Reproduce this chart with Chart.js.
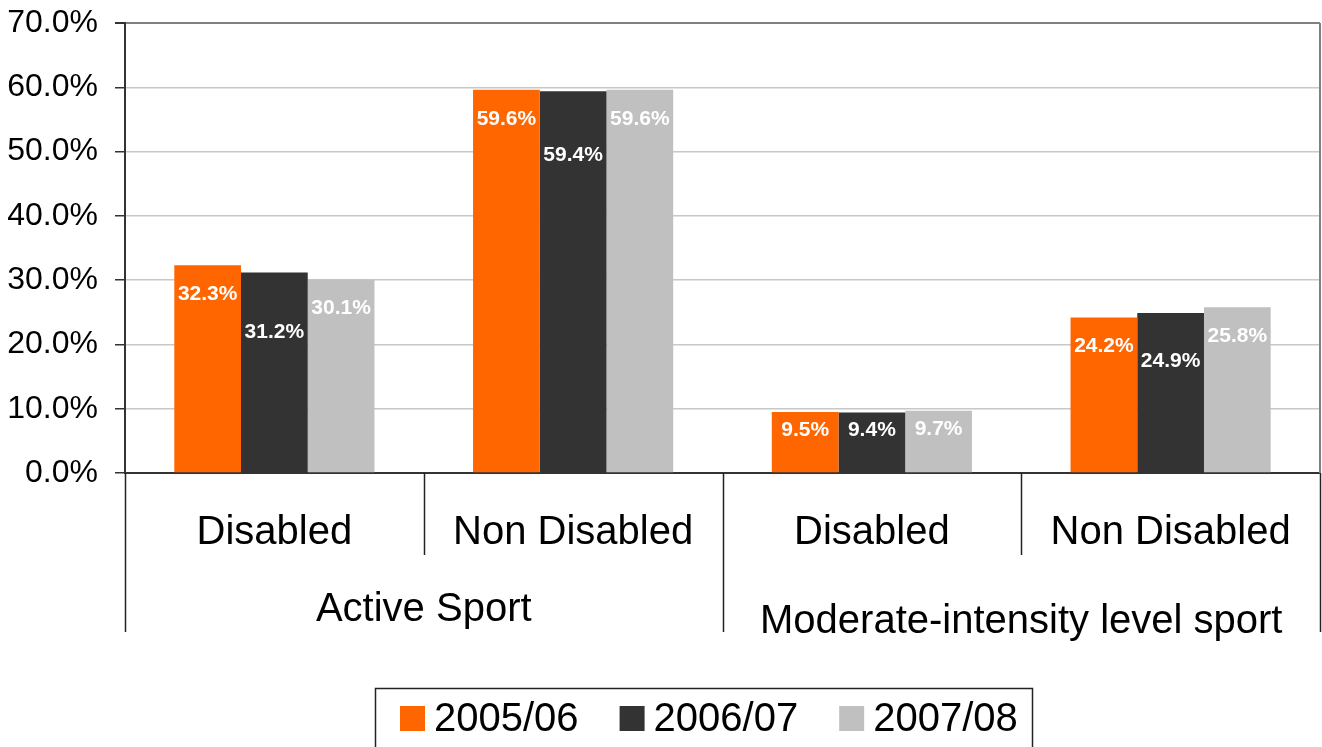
<!DOCTYPE html>
<html>
<head>
<meta charset="utf-8">
<title>Sport participation</title>
<script src="https://cdn.jsdelivr.net/npm/chart.js@4.4.1/dist/chart.umd.min.js"></script>
<style>
  html, body { margin: 0; padding: 0; background: #fff; overflow: hidden; }
  #chart { display: block; }
</style>
</head>
<body>
<canvas id="chart" width="1322" height="747"></canvas>
<script>
// data
var categories = ["Disabled", "Non Disabled", "Disabled", "Non Disabled"];
var groups = ["Active Sport", "Moderate-intensity level sport"];
var seriesNames = ["2005/06", "2006/07", "2007/08"];
var s2005 = [32.3, 59.6, 9.5, 24.2];
var s2006 = [31.2, 59.4, 9.4, 24.9];
var s2007 = [30.1, 59.6, 9.7, 25.8];
var yMax = 70;
var yStep = 10;

var colors = ["#FF6600", "#333333", "#C0C0C0"];
var FONT = '"Liberation Sans", Arial, sans-serif';

// labels, multi-level axis, legend
var decorations = {
  id: "decorations",
  afterDraw: function (chart) {
    var c = chart.ctx;
    var area = chart.chartArea;
    var x = chart.scales.x;

    // right border of plot
    c.save();
    c.strokeStyle = "#808080";
    c.lineWidth = 2;
    c.beginPath();
    c.moveTo(area.right, area.top);
    c.lineTo(area.right, area.bottom);
    c.stroke();

    // value labels
    c.fillStyle = "#ffffff";
    c.font = "bold 21px " + FONT;
    c.textAlign = "center";
    c.textBaseline = "middle";
    chart.data.datasets.forEach(function (ds, i) {
      var meta = chart.getDatasetMeta(i);
      meta.data.forEach(function (bar, j) {
        var h = bar.base - bar.y;
        var off = i === 1 ? Math.min(64, Math.max(14, h * 0.3)) : Math.min(29, h * 0.3);
        c.fillText(ds.data[j].toFixed(1) + "%", bar.x, bar.y + off);
      });
    });

    // category separators
    var n = categories.length;
    var step = (area.right - area.left) / n;
    c.strokeStyle = "#222";
    c.lineWidth = 1.5;
    for (var k = 0; k <= n; k++) {
      var lx = Math.round(area.left + k * step) + 0.5;
      var full = (k % 2 === 0);
      c.beginPath();
      c.moveTo(lx, area.bottom);
      c.lineTo(lx, full ? area.bottom + 159 : area.bottom + 82);
      c.stroke();
    }

    // category labels
    c.fillStyle = "#000";
    c.font = "40px " + FONT;
    categories.forEach(function (lab, j) {
      c.fillText(lab, x.getPixelForValue(j), area.bottom + 60);
    });
    groups.forEach(function (g, j) {
      var gx = (x.getPixelForValue(j * 2) + x.getPixelForValue(j * 2 + 1)) / 2;
      c.fillText(g, gx, area.bottom + (j === 0 ? 137 : 149));
    });

    // legend
    c.font = "40px " + FONT;
    c.textAlign = "left";
    var bx = 375, by = 688, bw = 657;
    c.strokeStyle = "#222";
    c.lineWidth = 1.5;
    c.strokeRect(bx + 0.5, by + 0.5, bw, 80);
    var px = 400;
    seriesNames.forEach(function (name, i) {
      c.fillStyle = colors[i];
      c.fillRect(px, 706, 25, 25);
      c.fillStyle = "#000";
      c.fillText(name, px + 34, 720);
      px += 34 + c.measureText(name).width + 41;
    });
    c.restore();
  }
};

var ctx = document.getElementById("chart").getContext("2d");
var myChart = new Chart(ctx, {
  type: "bar",
  data: {
    labels: categories,
    datasets: [
      { label: seriesNames[0], data: s2005, backgroundColor: colors[0] },
      { label: seriesNames[1], data: s2006, backgroundColor: colors[1] },
      { label: seriesNames[2], data: s2007, backgroundColor: colors[2] }
    ]
  },
  options: {
    responsive: false,
    animation: false,
    barPercentage: 1,
    categoryPercentage: 0.67,
    layout: { padding: { top: 23, right: 2, bottom: 274, left: 0 } },
    plugins: {
      legend: { display: false },
      tooltip: { enabled: false }
    },
    scales: {
      x: {
        ticks: { display: false },
        grid: { display: false },
        border: { color: "#333", width: 2 },
        afterFit: function (scale) { scale.height = 0; }
      },
      y: {
        min: 0,
        max: yMax,
        ticks: {
          stepSize: yStep,
          color: "#000",
          padding: 17,
          font: { family: FONT, size: 32 },
          callback: function (v) { return v.toFixed(1) + "%"; }
        },
        grid: {
          color: function (c) { return c.tick && c.tick.value === yMax ? "#808080" : "#c8c8c8"; },
          lineWidth: function (c) { return c.tick && c.tick.value === yMax ? 2 : 1.5; },
          tickColor: "#333",
          tickLength: 10
        },
        border: { color: "#333", width: 2 },
        afterFit: function (scale) {
          scale.width = 125;
          scale.paddingTop = 0;
          scale.paddingBottom = 0;
        }
      }
    }
  },
  plugins: [decorations]
});
</script>
</body>
</html>
